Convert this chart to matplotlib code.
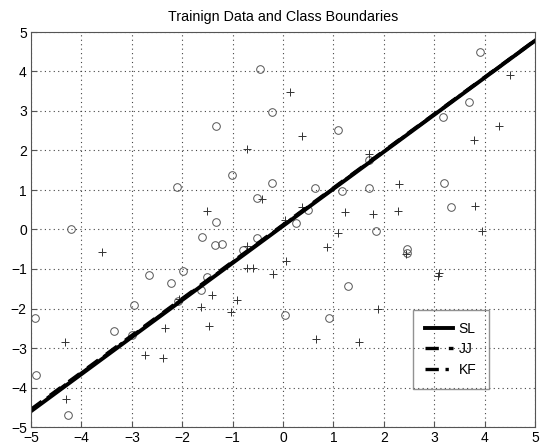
import matplotlib
matplotlib.use("Agg")
import matplotlib.pyplot as plt
import numpy as np

plt.rcParams['font.family'] = ['Liberation Sans', 'DejaVu Sans']

circle_x = [-0.46, -0.21, -1.33, -1.01, -2.11, -0.21, -0.52, -1.33, -4.21, -1.60, -0.52,
            3.90, 3.69, 3.17, 1.10, 1.70, 0.63, 1.18, 1.70, 3.19, 3.34, 0.50, 0.26, 1.84,
            -1.35, -1.21, -0.80, -2.66, -1.99, -1.50, -2.23, -1.62, -2.09, -2.95, 0.03,
            -4.92, -3.35, -2.99, -4.91, -4.26, 2.47, 2.47, 1.29, 0.91]
circle_y = [4.07, 2.97, 2.62, 1.37, 1.08, 1.17, 0.81, 0.18, 0.02, -0.19, -0.21,
            4.50, 3.23, 2.85, 2.52, 1.75, 1.05, 0.98, 1.06, 1.17, 0.56, 0.50, 0.16, -0.03,
            -0.38, -0.36, -0.53, -1.14, -1.06, -1.19, -1.35, -1.52, -1.80, -1.90, -2.16,
            -2.25, -2.57, -2.68, -3.69, -4.69, -0.50, -0.59, -1.43, -2.25]

plus_x = [0.14, -0.72, -0.41, -1.50, 4.50, 0.38, 4.29, 3.78, 1.70, 2.31, 3.80, 0.38,
          1.23, 1.78, 2.29, 0.04, 1.10, 3.94, -0.72, -3.60, 0.06, -0.72, -0.60, -0.19,
          -1.40, -2.06, -0.91, -1.62, -1.03, -2.35, -1.47, -4.32, -2.74, -2.38, -4.31,
          0.87, 2.44, 3.10, 3.07, 1.89, 0.65, 1.50]
plus_y = [3.47, 2.03, 0.77, 0.46, 3.92, 2.36, 2.63, 2.26, 1.92, 1.15, 0.60, 0.58,
          0.45, 0.38, 0.46, 0.23, -0.08, -0.03, -0.41, -0.57, -0.81, -0.97, -0.97, -1.12,
          -1.67, -1.75, -1.79, -1.96, -2.09, -2.49, -2.44, -2.85, -3.18, -3.26, -4.28,
          -0.45, -0.61, -1.09, -1.17, -2.01, -2.76, -2.85]

line_x = [-5, 5]
sl_y = [-4.60, 4.78]
jj_y = [-4.55, 4.79]
kf_y = [-4.57, 4.78]

fig = plt.figure(figsize=(5.42, 4.48), dpi=100)
ax = fig.add_axes([31/542, 1-427/448, (535-31)/542, (427-32)/448])

ax.plot(circle_x, circle_y, 'o', mfc='none', mec='#555555', ms=5.5, mew=0.7, ls='none')
ax.plot(plus_x, plus_y, '+', color='#333333', ms=6, mew=0.7, ls='none')

ax.plot(line_x, sl_y, '-', color='black', lw=2.8, label='SL')
ax.plot(line_x, jj_y, '--', color='black', lw=2.4, label='JJ', dashes=(4, 3))
ax.plot(line_x, kf_y, '-.', color='black', lw=2.4, label='KF', dashes=(4, 2, 1, 2))

ax.set_xlim(-5, 5)
ax.set_ylim(-5, 5)
ax.set_xticks(np.arange(-5, 6, 1))
ax.set_yticks(np.arange(-5, 6, 1))
ax.set_xticklabels(['\u22125', '\u22124', '\u22123', '\u22122', '\u22121', '0', '1', '2', '3', '4', '5'])
ax.set_yticklabels(['\u22125', '\u22124', '\u22123', '\u22122', '\u22121', '0', '1', '2', '3', '4', '5'])
ax.grid(True, ls=(0, (1, 3)), color='#444444', lw=0.8)
ax.tick_params(direction='in', length=4, labelsize=10, color='#555555')
ax.tick_params(axis='x', pad=3)
ax.tick_params(axis='y', pad=3)
for s in ax.spines.values():
    s.set_color('#555555')

ax.set_title('Trainign Data and Class Boundaries', fontsize=10.3, pad=8)

leg = ax.legend(loc='lower right', bbox_to_anchor=((489-31)/504, (427-389)/395),
                frameon=True, fancybox=False, facecolor='none', edgecolor='#777777',
                fontsize=10, handlelength=2.0, handletextpad=0.4, borderpad=0.9,
                borderaxespad=0, labelspacing=0.45)
leg.get_frame().set_linewidth(1.0)

fig.savefig('out.png', dpi=100)
